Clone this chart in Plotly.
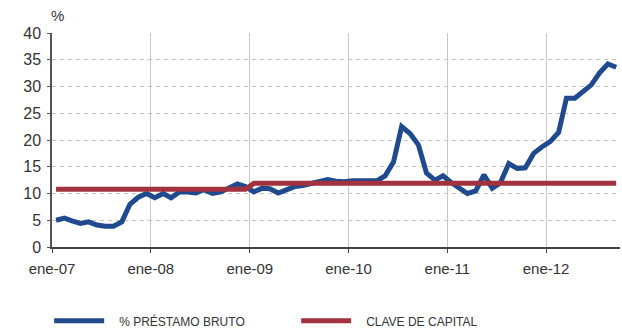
import pandas as pd
import plotly.graph_objects as go

# Monthly share of gross lending (%), Jan 2007 - Sep 2012
prestamo_bruto = [
    5.0, 5.4, 4.9, 4.4, 4.7, 4.1, 3.9, 3.9, 4.7, 8.0, 9.3, 10.0,        # 2007
    9.2, 10.0, 9.2, 10.3, 10.3, 10.1, 10.7, 10.0, 10.3, 11.0, 11.8, 11.3,  # 2008
    10.3, 11.0, 10.9, 10.1, 10.7, 11.3, 11.5, 11.8, 12.1, 12.6, 12.3, 12.2,  # 2009
    12.4, 12.4, 12.5, 12.4, 13.3, 15.9, 22.5, 21.2, 19.1, 13.8, 12.5, 13.3,  # 2010
    12.0, 10.8, 10.0, 10.5, 13.5, 11.0, 12.0, 15.6, 14.7, 14.8, 17.5, 18.7,  # 2011
    19.7, 21.4, 27.8, 27.8, 29.0, 30.3, 32.5, 34.2, 33.6,                  # 2012
]
meses = pd.date_range("2007-01-01", periods=len(prestamo_bruto), freq="MS") + pd.Timedelta(days=15)

# Capital key: one level until Dec 2008, a higher one from Jan 2009
clave_fechas = ["2007-01-16", "2008-12-16", "2009-01-16", "2012-09-16"]
clave_capital = [10.8, 10.8, 11.9, 11.9]

tick_fechas = ["2007-01-01", "2008-01-01", "2009-01-01", "2010-01-01", "2011-01-01", "2012-01-01"]
tick_textos = ["ene-07", "ene-08", "ene-09", "ene-10", "ene-11", "ene-12"]
y_ticks = [0, 5, 10, 15, 20, 25, 30, 35, 40]

AZUL = "#1f4a8d"
ROJO = "#a3323f"
TEXTO = "#333333"
FUENTE = "Liberation Sans, Arial, sans-serif"
SEP = "\u00a0\u00a0\u00a0"  # extra room between legend swatch and label

fig = go.Figure()
fig.add_trace(go.Scatter(
    x=meses, y=prestamo_bruto, mode="lines", name=SEP + "% PRÉSTAMO BRUTO",
    line=dict(color=AZUL, width=5),
))
fig.add_trace(go.Scatter(
    x=clave_fechas, y=clave_capital, mode="lines", name=SEP + "CLAVE DE CAPITAL",
    line=dict(color=ROJO, width=5),
))

fig.update_layout(
    width=622, height=329,
    margin=dict(l=52, r=2, t=33, b=82, autoexpand=False),
    plot_bgcolor="white", paper_bgcolor="white",
    font=dict(family=FUENTE, size=15, color=TEXTO),
    showlegend=True,
    legend=dict(
        orientation="h", x=-0.005, xanchor="left", y=-0.345, yanchor="middle",
        font=dict(family=FUENTE, size=12, color=TEXTO),
        itemwidth=50, entrywidth=182, bgcolor="rgba(0,0,0,0)",
    ),
    annotations=[dict(
        text="%", xref="paper", yref="paper", x=0.01, y=1.0, yshift=18,
        xanchor="center", yanchor="middle", showarrow=False,
        font=dict(family=FUENTE, size=15, color=TEXTO),
    )],
)

fig.update_xaxes(
    type="date", range=["2007-01-01", "2012-09-30"],
    tickvals=tick_fechas, ticktext=tick_textos,
    showgrid=True, gridcolor="#c8c8c8", gridwidth=1,
    showline=True, linecolor="#444444", linewidth=1.5,
    ticks="outside", ticklen=4, tickcolor="#444444",
    ticklabelstandoff=3, zeroline=False,
    tickfont=dict(size=15, color=TEXTO),
)
fig.update_yaxes(
    range=[0, 40], tickvals=y_ticks,
    showgrid=True, gridcolor="#c3c3c3", gridwidth=1, griddash="4px,4px",
    showline=True, linecolor="#555555", linewidth=1.5,
    ticks="outside", ticklen=3, tickcolor="#555555",
    ticklabelstandoff=3, zeroline=False,
    tickfont=dict(size=16, color=TEXTO),
)

fig.write_html("out.html")
